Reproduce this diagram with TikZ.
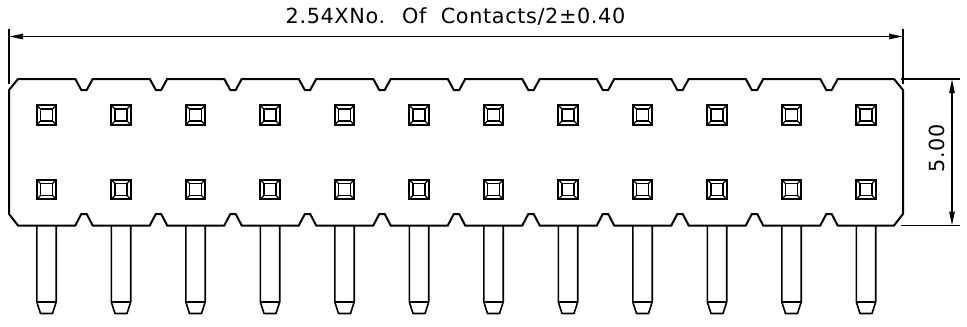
\documentclass[tikz,border=0pt]{standalone}
\usepackage{fontspec}
\setmainfont{DejaVu Sans}[LetterSpace=3,WordSpace=2]
\usetikzlibrary{arrows.meta}
\tikzset{
  px/.style={x=0.75pt,y=-0.75pt},
  outline/.style={line width=1.5pt,line join=miter},
  thinline/.style={line width=1.2pt},
  dimline/.style={line width=1.2pt,{Triangle[length=10.5pt,width=4pt]}-{Triangle[length=10.5pt,width=4pt]}},
  dimtext/.style={inner sep=0pt,font=\fontsize{15.6pt}{18pt}\selectfont}
}
\begin{document}
\begin{tikzpicture}[px]
\useasboundingbox (0,0) rectangle (967,326);
% body outline
\draw[outline] (9,90) -- (18,79)
  \foreach \i in {0,...,10} { -- ({84+74.5*\i-8.7},79) -- ({84+74.5*\i-2.7},90) -- ({84+74.5*\i+2.7},90) -- ({84+74.5*\i+8.7},79) }
  -- (894,79) -- (903,90) -- (903,214) -- (894,225.5)
  \foreach \i in {10,9,...,0} { -- ({84+74.5*\i+8.7},225.5) -- ({84+74.5*\i+2.7},214) -- ({84+74.5*\i-2.7},214) -- ({84+74.5*\i-8.7},225.5) }
  -- (18,225.5) -- (9,214) -- cycle;
% contacts
\foreach \i in {0,...,11} {
  \pgfmathsetmacro{\cx}{46.5+74.5*\i}
  \foreach \cy in {115,189.5} {
    \begin{scope}[shift={(\cx,\cy)}]
      \draw[line width=1.5pt] (-9.7,-9.7) rectangle (9.7,9.7);
      \draw[line width=0.9pt] (-6,-6) rectangle (6,6);
      \draw[line width=0.9pt] (-9.7,-9.7) -- (-6,-6) (9.7,-9.7) -- (6,-6) (-9.7,9.7) -- (-6,6) (9.7,9.7) -- (6,6);
    \end{scope}
  }
  \begin{scope}[shift={(\cx,0)}]
    \draw[thinline,line join=round] (-9.7,225.5) -- (-9.7,302) -- (-6,313.5) -- (6,313.5) -- (9.7,302) -- (9.7,225.5);
    \draw[thinline] (-9.7,302) -- (9.7,302);
  \end{scope}
}
% dimensions
\coordinate (extLt) at (9,29);
\coordinate (extLb) at (9,83.5);
\coordinate (extRt) at (903,29);
\coordinate (extRb) at (903,83.5);
\coordinate (extTl) at (901,79);
\coordinate (extTr) at (960,79);
\coordinate (extBl) at (901,225.5);
\coordinate (extBr) at (960,225.5);
\draw[thinline] (extLt) -- (extLb);
\draw[thinline] (extRt) -- (extRb);
\draw[thinline] (extTl) -- (extTr);
\draw[thinline] (extBl) -- (extBr);
\draw[dimline] (9,36.5) -- (903,36.5);
\draw[dimline] (952,79) -- (952,225.5);
\node[dimtext] (widthlabel) at (455.5,16.5) {2.54XNo. Of Contacts/2±0.40};
\node[dimtext,rotate=90] (heightlabel) at (937,148) {5.00};
\end{tikzpicture}
\end{document}
